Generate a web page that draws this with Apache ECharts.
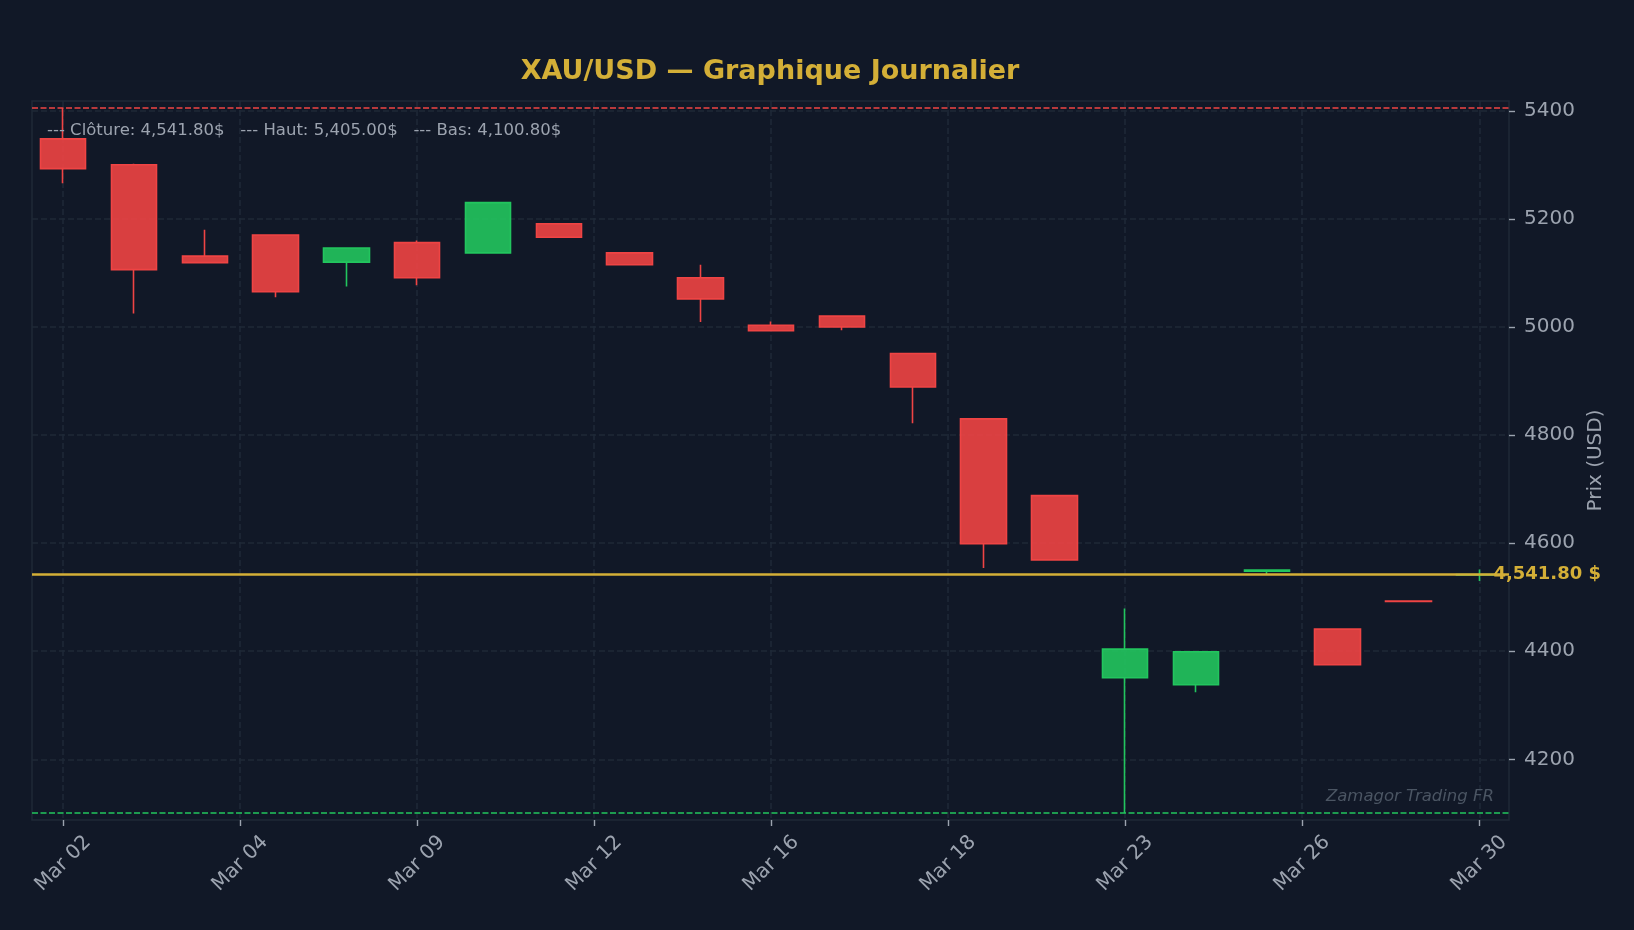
<!DOCTYPE html>
<html>
<head>
<meta charset="utf-8">
<script src="https://cdn.jsdelivr.net/npm/echarts@6/dist/echarts.min.js"></script>
<style>
html,body{margin:0;padding:0;background:#111827;}
#chart{width:1634px;height:930px;}
</style>
</head>
<body>
<div id="chart"></div>
<script>
const dates = ['Mar 02','Mar 03','Mar 04','Mar 05','Mar 06','Mar 09','Mar 10','Mar 11','Mar 12','Mar 13',
  'Mar 16','Mar 17','Mar 18','Mar 19','Mar 20','Mar 23','Mar 24','Mar 25','Mar 26','Mar 27','Mar 30'];
const opens  = [5348, 5300, 5131, 5170, 5120, 5156, 5137, 5191, 5137, 5091, 5003, 5020, 4951, 4830, 4688, 4351, 4338, 4548, 4441, 4493, 4541.0];
const closes = [5293, 5106, 5119, 5065, 5146, 5091, 5230, 5166, 5115, 5052, 4993, 5000, 4889, 4599, 4569, 4404, 4399, 4550, 4375, 4492, 4541.8];
const lows   = [5266, 5025, 5118, 5055, 5075, 5077, 5136, 5165, 5114, 5009, 4992, 4994, 4822, 4554, 4568, 4100.8, 4324, 4542, 4374, 4491, 4530];
const highs  = [5405, 5302, 5180, 5171, 5147, 5160, 5231, 5192, 5138, 5115, 5010, 5020, 4952, 4831, 4689, 4479, 4400, 4550, 4442, 4493, 4551];

const xTickPositions = [0, 2.5, 5, 7.5, 10, 12.5, 15, 17.5, 20];
const xTickLabels = ['Mar 02','Mar 04','Mar 09','Mar 12','Mar 16','Mar 18','Mar 23','Mar 26','Mar 30'];
const yTicks = [4200, 4400, 4600, 4800, 5000, 5200, 5400];

const closePrice = 4541.80;
const highPrice = 5405.00;
const lowPrice = 4100.80;

const GOLD = '#d4af37', RED = '#ef4444', GREEN = '#22c55e', GRAY = '#9ca3af', GRID = '#1f2937', BG = '#111827';
const FONT = 'DejaVu Sans';

function fmt(v) {
  return v.toFixed(2).replace(/\B(?=(\d{3})+(?!\d))/g, ',');
}

const xMin = -0.44, xMax = 20.42;
const yRange = highPrice - lowPrice;
const yMin = lowPrice - yRange * 0.01, yMax = highPrice + yRange * 0.01;

// shift so rotated label bounding box is centred on its tick (as matplotlib does)
const labelShift = 0.347;
const xLabelValues = xTickPositions.map(v => v + labelShift);

const candleData = dates.map((d, i) => [i, opens[i], closes[i], lows[i], highs[i]]);

const chart = echarts.init(document.getElementById('chart'), null, {renderer: 'canvas'});
chart.setOption({
  backgroundColor: BG,
  animation: false,
  textStyle: {fontFamily: FONT},
  title: [
    {
      text: 'XAU/USD — Graphique Journalier',
      left: 765, top: 53, textAlign: 'center',
      textStyle: {color: GOLD, fontSize: 27, fontWeight: 'bold', fontFamily: FONT}
    },
    {
      text: '--- Clôture: ' + fmt(closePrice) + '$   --- Haut: ' + fmt(highPrice) + '$   --- Bas: ' + fmt(lowPrice) + '$',
      left: 42, top: 117,
      textStyle: {color: GRAY, fontSize: 16.5, fontWeight: 'normal', fontFamily: FONT}
    },
    {
      text: 'Zamagor Trading FR',
      right: 135, top: 783,
      textStyle: {color: '#4b5563', fontSize: 16.5, fontStyle: 'italic', fontWeight: 'normal', fontFamily: FONT}
    }
  ],
  grid: {
    left: 32, right: 125, top: 101, bottom: 110,
    show: true, borderColor: GRID, borderWidth: 1.5, backgroundColor: 'transparent'
  },
  xAxis: {
    type: 'value', min: xMin, max: xMax,
    axisLine: {show: false, onZero: false},
    axisTick: {show: true, customValues: xTickPositions, length: 6, lineStyle: {color: GRAY, width: 1.4}},
    axisLabel: {
      customValues: xLabelValues, rotate: 45, margin: 19,
      color: GRAY, fontSize: 20, fontFamily: FONT,
      formatter: function (v) {
        const k = Math.round((v - labelShift) / 2.5);
        return xTickLabels[k] || '';
      }
    },
    splitLine: {show: true, lineStyle: {color: GRID, type: [6, 3], width: 1.6}}
  },
  yAxis: {
    type: 'value', position: 'right', min: yMin, max: yMax, scale: true,
    name: 'Prix (USD)', nameLocation: 'middle', nameGap: 76, nameRotate: 90,
    nameTextStyle: {color: GRAY, fontSize: 20, fontFamily: FONT},
    axisLine: {show: false, onZero: false},
    axisTick: {show: true, customValues: yTicks, length: 6, lineStyle: {color: GRAY, width: 1.4}},
    axisLabel: {
      customValues: yTicks, margin: 15, color: GRAY, fontSize: 20, fontFamily: FONT,
      formatter: v => String(v)
    },
    splitLine: {show: true, lineStyle: {color: GRID, type: [6, 3], width: 1.6}}
  },
  series: [{
    type: 'candlestick',
    data: candleData,
    encode: {x: 0, y: [1, 2, 3, 4]},
    barWidth: 46,
    itemStyle: {
      color: 'rgba(34,197,94,0.9)', color0: 'rgba(239,68,68,0.9)',
      borderColor: GREEN, borderColor0: RED, borderWidth: 1.6
    },
    markLine: {
      silent: true, symbol: 'none', animation: false,
      label: {show: false},
      data: [
        {yAxis: highPrice, lineStyle: {color: RED, type: [6, 2.5], width: 1.7}},
        {yAxis: lowPrice, lineStyle: {color: GREEN, type: [6, 2.5], width: 1.7}},
        {yAxis: closePrice, lineStyle: {color: GOLD, type: 'solid', width: 2.5}}
      ]
    },
    markPoint: {
      silent: true, animation: false,
      symbol: 'circle', symbolSize: 0,
      data: [{
        coord: [xMax - 0.22, closePrice],
        label: {
          show: true, position: 'right', distance: 0,
          formatter: fmt(closePrice) + ' $',
          color: GOLD, fontSize: 18, fontWeight: 'bold', fontFamily: FONT
        }
      }]
    }
  }]
});
</script>
</body>
</html>
